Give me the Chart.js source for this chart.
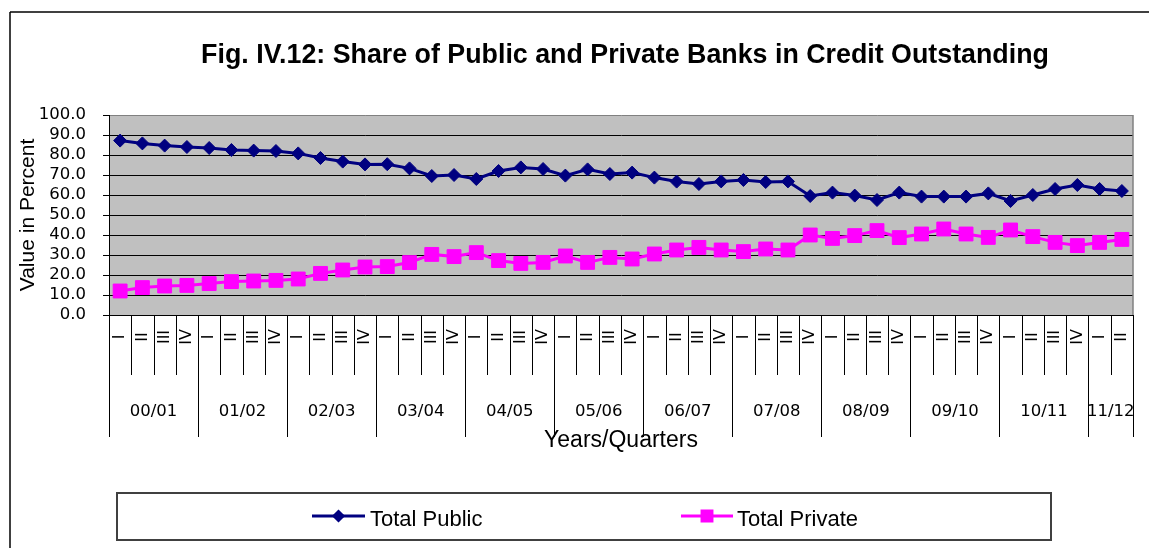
<!DOCTYPE html>
<html><head><meta charset="utf-8">
<script src="https://cdn.jsdelivr.net/npm/chart.js@4/dist/chart.umd.min.js"></script>
<style>html,body{margin:0;padding:0;background:#fff}canvas{display:block}</style>
</head><body>
<canvas id="c" width="1149" height="548"></canvas>
<script>
const chartTitle = "Fig. IV.12: Share of Public and Private Banks in Credit Outstanding";
const yAxisTitle = "Value in Percent";
const xAxisTitle = "Years/Quarters";
const years = ["00/01","01/02","02/03","03/04","04/05","05/06","06/07","07/08","08/09","09/10","10/11","11/12"];
const quarterLabels = [
  "I","II","III","IV", "I","II","III","IV", "I","II","III","IV", "I","II","III","IV",
  "I","II","III","IV", "I","II","III","IV", "I","II","III","IV", "I","II","III","IV",
  "I","II","III","IV", "I","II","III","IV", "I","II","III","IV", "I","II"
];
const categories = quarterLabels.map((q, i) => years[Math.floor(i / 4)] + " " + q);
const totalPublic = [
  87.2, 85.8, 84.7, 84.0, 83.5, 82.5, 82.2, 82.0, 80.8, 78.5,
  76.7, 75.3, 75.4, 73.3, 69.5, 70.0, 68.0, 72.0, 73.8, 73.0,
  69.7, 72.8, 70.5, 71.2, 68.7, 66.7, 65.5, 66.8, 67.5, 66.5,
  66.8, 59.5, 61.2, 59.7, 57.5, 61.2, 59.2, 59.2, 59.2, 60.8,
  57.0, 60.0, 63.0, 65.0, 63.0, 62.0
];
const totalPrivate = [
  12.0, 13.7, 14.5, 14.8, 15.7, 16.7, 17.0, 17.3, 18.0, 20.8,
  22.5, 24.0, 24.2, 26.2, 30.3, 29.2, 31.2, 27.2, 25.8, 26.3,
  29.5, 26.3, 28.8, 28.0, 30.5, 32.5, 33.8, 32.5, 31.7, 33.0,
  32.5, 40.0, 38.3, 39.7, 42.2, 38.7, 40.5, 43.0, 40.5, 38.8,
  42.5, 39.2, 36.3, 34.7, 36.3, 37.8
];
const seriesNames = ["Total Public", "Total Private"];
const yMin = 0, yMax = 100, yStep = 10;

const ARIAL = "'Liberation Sans', Arial, sans-serif";
const TICKF = "'DejaVu Sans', sans-serif";

function line(ctx, x1, y1, x2, y2) { ctx.beginPath(); ctx.moveTo(x1, y1); ctx.lineTo(x2, y2); ctx.stroke(); }

const frame = {
  id: 'frame',
  beforeDraw(chart) {
    const {ctx, chartArea: a} = chart;
    ctx.save();
    ctx.fillStyle = '#fff';
    ctx.fillRect(0, 0, chart.width, chart.height);
    ctx.fillStyle = '#C0C0C0';
    ctx.fillRect(a.left, a.top, a.right - a.left, a.bottom - a.top);
    ctx.strokeStyle = '#000';
    ctx.lineWidth = 1.5;
    line(ctx, 10, 12, 10, chart.height);
    line(ctx, 10, 12, chart.width, 12);
    ctx.restore();
  },
  beforeDatasetsDraw(chart) {
    const {ctx, chartArea: a} = chart;
    ctx.save();
    ctx.strokeStyle = '#808080';
    ctx.lineWidth = 1.5;
    line(ctx, a.right, a.top, a.right, a.bottom);
    ctx.restore();
  },
  afterDraw(chart) {
    const {ctx, chartArea: a} = chart;
    const xs = chart.scales.x;
    const n = categories.length;
    ctx.save();
    ctx.strokeStyle = '#000';
    ctx.lineWidth = 1;
    for (let b = 0; b <= n; b++) {
      const x = Math.round(xs.getPixelForValue(b - 0.5)) + 0.5;
      const isYear = (b % 4 === 0) || b === n;
      line(ctx, x, a.bottom, x, isYear ? 437 : 375);
    }
    ctx.fillStyle = '#000';
    ctx.font = "16px " + TICKF;
    ctx.textAlign = 'center';
    ctx.textBaseline = 'middle';
    for (let i = 0; i < n; i++) {
      const x = xs.getPixelForValue(i);
      ctx.save();
      ctx.translate(x, 337);
      ctx.rotate(-Math.PI / 2);
      ctx.fillText(quarterLabels[i], 0, 0);
      ctx.restore();
    }
    ctx.font = "16.5px " + TICKF;
    for (let j = 0; j < years.length; j++) {
      const first = j * 4, last = Math.min(j * 4 + 3, n - 1);
      const x = (xs.getPixelForValue(first - 0.5) + xs.getPixelForValue(last + 0.5)) / 2;
      ctx.fillText(years[j], x, 412);
    }
    ctx.font = "23px " + ARIAL;
    ctx.textBaseline = 'alphabetic';
    ctx.fillText(xAxisTitle, (a.left + a.right) / 2, 447);
    ctx.font = "bold 26.8px " + ARIAL;
    ctx.fillText(chartTitle, 625, 63);
    ctx.strokeStyle = '#404040';
    ctx.lineWidth = 2;
    ctx.strokeRect(117, 493, 1051 - 117, 540 - 493);
    const ds = chart.data.datasets;
    const items = [{x1: 312, x2: 365, tx: 370}, {x1: 681, x2: 733, tx: 737}];
    const ly = 516;
    items.forEach((it, k) => {
      const d = ds[k];
      ctx.strokeStyle = d.borderColor;
      ctx.lineWidth = 3;
      line(ctx, it.x1, ly, it.x2, ly);
      ctx.fillStyle = d.backgroundColor;
      ctx.beginPath();
      Chart.helpers.drawPoint(ctx, {pointStyle: d.pointStyle, radius: k === 0 ? 4.5 : 7, borderWidth: 1}, (it.x1 + it.x2) / 2, ly);
      ctx.fillStyle = '#000';
      ctx.font = "22px " + ARIAL;
      ctx.textAlign = 'left';
      ctx.textBaseline = 'alphabetic';
      ctx.fillText(d.label, it.tx, 526);
    });
    ctx.restore();
  }
};

new Chart(document.getElementById('c'), {
  type: 'line',
  data: {
    labels: categories,
    datasets: [
      {label: seriesNames[0], data: totalPublic, borderColor: '#000080', backgroundColor: '#000080',
       borderWidth: 3, pointStyle: 'rectRot', pointRadius: 6.5, pointBorderWidth: 1, tension: 0},
      {label: seriesNames[1], data: totalPrivate, borderColor: '#FF00FF', backgroundColor: '#FF00FF',
       borderWidth: 3, pointStyle: 'rect', pointRadius: 9.8, pointBorderWidth: 1, tension: 0}
    ]
  },
  options: {
    responsive: false,
    animation: false,
    devicePixelRatio: 1,
    layout: {padding: {top: 115, right: 16, left: 0, bottom: 0}},
    plugins: {legend: {display: false}, title: {display: false}, tooltip: {enabled: false}},
    scales: {
      x: {
        type: 'category', offset: true,
        grid: {display: false},
        ticks: {display: false},
        border: {display: true, color: '#000', width: 1},
        afterFit: s => { s.height = 548 - 315; }
      },
      y: {
        min: yMin, max: yMax,
        ticks: {stepSize: yStep, autoSkip: false, color: '#000', padding: 17,
                font: {family: "'DejaVu Sans', sans-serif", size: 16.5},
                callback: v => Number(v).toFixed(1)},
        grid: {color: c => (c.tick && c.tick.value === yMax) ? '#808080' : '#000', lineWidth: 1, tickLength: 6,
               tickColor: '#000'},
        border: {display: true, color: '#000', width: 1},
        title: {display: true, text: yAxisTitle, color: '#000', font: {family: "'Liberation Sans', Arial, sans-serif", size: 21}, padding: {top: 16, bottom: 0}},
        afterFit: s => { s.width = 109; }
      }
    }
  },
  plugins: [frame]
});
</script>
</body></html>
